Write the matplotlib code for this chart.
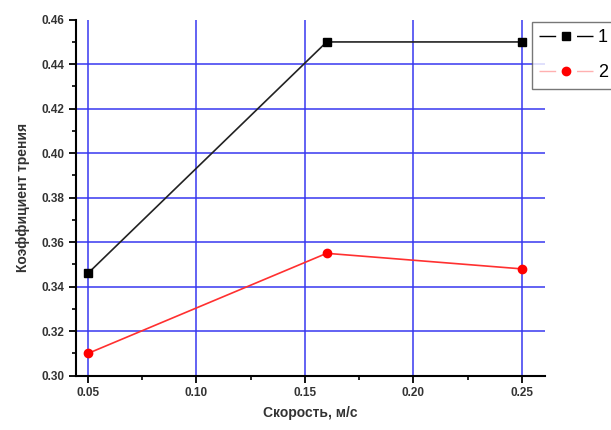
import matplotlib

matplotlib.use("Agg")
import matplotlib.pyplot as plt
from matplotlib.lines import Line2D
from matplotlib.ticker import MultipleLocator

# Data
speed = [0.05, 0.16, 0.25]
friction_1 = [0.346, 0.45, 0.45]
friction_2 = [0.31, 0.355, 0.348]
series_labels = ["1", "2"]

plt.rcParams["font.family"] = ["Liberation Sans", "DejaVu Sans"]
plt.rcParams["lines.scale_dashes"] = False

fig = plt.figure(figsize=(6.11, 4.30), dpi=100)
ax = fig.add_axes([0.1244, 0.1263, 0.7676, 0.8279])

ax.plot(speed, friction_1, color="#222222", lw=1.2, marker="s", ms=6,
        mfc="black", mec="black", zorder=3)
ax.plot(speed, friction_2, color="#ff3030", lw=1.2, marker="o", ms=6,
        mfc="red", mec="red", zorder=3)

ax.set_xlim(0.0445, 0.2606)
ax.set_ylim(0.30, 0.46)
ax.xaxis.set_major_locator(MultipleLocator(0.05))
ax.xaxis.set_minor_locator(MultipleLocator(0.025))
ax.yaxis.set_major_locator(MultipleLocator(0.02))
ax.yaxis.set_minor_locator(MultipleLocator(0.01))
ax.xaxis.set_major_formatter(lambda v, p: f"{v:.2f}")
ax.yaxis.set_major_formatter(lambda v, p: f"{v:.2f}")

ax.grid(True, which="major", color="#3838f0", lw=1.1, zorder=1)
for s in ("top", "right"):
    ax.spines[s].set_visible(False)
for s in ("left", "bottom"):
    ax.spines[s].set_linewidth(1.5)
ax.tick_params(which="major", direction="out", length=5, width=1.3,
               labelsize=8.5, labelcolor="#333333")
ax.tick_params(which="minor", direction="out", length=3, width=1.2)
for lbl in ax.get_xticklabels() + ax.get_yticklabels():
    lbl.set_fontweight("bold")

# no horizontal grid line along the top edge
fig.canvas.draw()
for tick in ax.yaxis.get_major_ticks():
    if abs(tick.get_loc() - 0.46) < 1e-6:
        tick.gridline.set_visible(False)

ax.set_xlabel("Скорость, м/с", fontsize=10, fontweight="bold", color="#333333",
              labelpad=5)
ax.set_ylabel("Коэффициент трения", fontsize=10, fontweight="bold",
              color="#333333", labelpad=8)

# legend handles drawn as "— marker —"
dash = (0, (12, 15, 12, 100))
handles = [
    Line2D([], [], color="black", lw=1.0, ls=dash, marker="s", ms=6,
           mfc="black", mec="black"),
    Line2D([], [], color="#ffb0b0", lw=1.0, ls=dash, marker="o", ms=6,
           mfc="red", mec="red"),
]
leg = fig.legend(handles, series_labels, loc="upper left",
                 bbox_to_anchor=(532 / 611, 1 - 22 / 430),
                 fontsize=13, frameon=True, fancybox=False, shadow=False,
                 handlelength=3.0, borderpad=0.4, labelspacing=1.0,
                 handletextpad=0.25, borderaxespad=0)
leg.get_frame().set_edgecolor("#555555")
leg.get_frame().set_linewidth(1.0)

fig.savefig("out.png", dpi=100)
